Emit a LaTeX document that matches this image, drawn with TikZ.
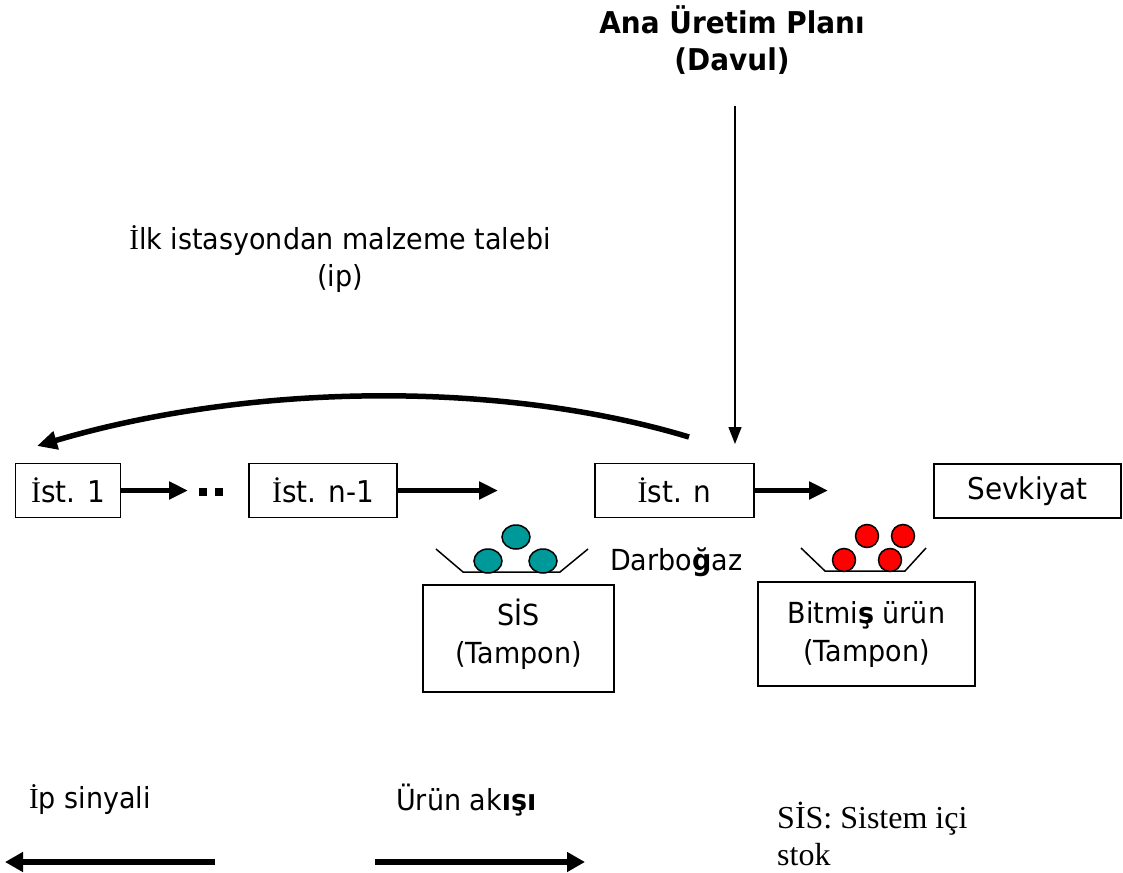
\documentclass[tikz,border=0pt]{standalone}
\usepackage{fontspec}
\setmainfont{DejaVu Sans}[FakeStretch=0.93]
\newfontfamily\serifface{Liberation Serif}
\usetikzlibrary{arrows.meta}
\definecolor{tealball}{RGB}{0,153,153}
\definecolor{redball}{RGB}{255,0,0}
% dotted capital I set in a serif face
\newcommand{\Idot}{{\serifface İ}}
\tikzset{
  lbl/.style={font=\fontsize{29}{37}\selectfont, align=center, inner sep=0pt},
  heading/.style={font=\fontsize{30}{37}\selectfont\bfseries, align=center, inner sep=0pt},
  station/.style={draw, line width=1.5pt, minimum height=54pt, inner sep=0pt,
    font=\fontsize{30}{35}\selectfont},
  bufbox/.style={draw, line width=1.5pt, inner sep=0pt},
  boxtext/.style={font=\fontsize{29}{38}\selectfont, align=center, inner sep=0pt},
  dotsq/.style={fill=black, minimum size=8pt, inner sep=0pt},
  flow/.style={line width=5.5pt, -{Triangle[length=19pt,width=17pt]}},
  ipcurve/.style={line width=5.5pt, -{Triangle[length=20pt,width=18pt]}},
  legendarrow/.style={line width=6.5pt, -{Triangle[length=18pt,width=19pt]}},
  thinarrow/.style={line width=1.3pt, -{Triangle[length=17pt,width=13pt]}},
  tray/.style={line width=1.5pt},
  ball/.style={draw=black, line width=1.5pt},
  note/.style={font=\serifface\fontsize{32}{37}\selectfont, align=left, inner sep=0pt},
}
\begin{document}
\begin{tikzpicture}[x=1pt,y=-1pt]
\useasboundingbox (0,0) rectangle (1123,872);

% master production schedule (drum)
\node[heading] (plan) at (732,40) {Ana Üretim Planı\\(Davul)};
\coordinate (drumtop) at (735,106);
\coordinate (drumtip) at (735,444);
\draw[thinarrow] (drumtop) -- (drumtip);

% material request to the first station
\node[lbl] (talep) at (340,259) {\Idot lk istasyondan malzeme talebi\\(ip)};
\coordinate (ipstart) at (689,437);
\coordinate (ipend) at (37,446);
\draw[ipcurve] (ipstart) .. controls (500,380) and (250,383) .. (ipend);

% stations
\node[station, minimum width=105pt] (s1) at (68,490.5) {\Idot st. 1};
\node[station, minimum width=148pt] (sn1) at (323,490.5) {\Idot st. n-1};
\node[station, minimum width=159pt] (sn) at (674.5,490.5) {\Idot st. n};
\node[station, minimum width=187pt] (ship) at (1027.5,491) {Sevkiyat};

\coordinate (a1) at (188,490.5);
\draw[flow] (s1.east) -- (a1);
\node[dotsq] (d1) at (203,492) {};
\node[dotsq] (d2) at (219,492) {};
\coordinate (a2) at (498,490.5);
\draw[flow] (sn1.east) -- (a2);
\coordinate (a3) at (828,490.5);
\draw[flow] (sn.east) -- (a3);

% work-in-process buffer
\draw[tray] (436,549) -- (463,572) -- (560,572) -- (588,549);
\filldraw[ball, fill=tealball] (516,537) ellipse [x radius=14pt, y radius=12pt];
\filldraw[ball, fill=tealball] (488,561) ellipse [x radius=14pt, y radius=12pt];
\filldraw[ball, fill=tealball] (543,561) ellipse [x radius=14pt, y radius=12pt];
\node[lbl, anchor=west] (darbo) at (610,562) {Darbo\textbf{ğ}az};
\node[bufbox, minimum width=191pt, minimum height=107pt,
  label={[boxtext, yshift=4pt]center:SİS\\(Tampon)}] (wip) at (518.5,638.5) {};

% finished goods buffer
\draw[tray] (801,548) -- (825,571) -- (905,571) -- (926,548);
\filldraw[ball, fill=redball] (844,560) circle [radius=11.5pt];
\filldraw[ball, fill=redball] (890,560) circle [radius=11.5pt];
\filldraw[ball, fill=redball] (867,536) circle [radius=11.5pt];
\filldraw[ball, fill=redball] (903,536) circle [radius=11.5pt];
\node[bufbox, minimum width=217pt, minimum height=104pt,
  label={[boxtext]center:Bitmi\textbf{ş} ürün\\(Tampon)}] (fg) at (866.5,634) {};

% legend
\node[lbl, anchor=west] (siglbl) at (29,800) {\Idot p sinyali};
\coordinate (sigR) at (215,862);
\coordinate (sigL) at (5,862);
\draw[legendarrow] (sigR) -- (sigL);
\node[lbl, anchor=west] (flowlbl) at (396,800) {Ürün ak\textbf{ışı}};
\coordinate (flowL) at (375,862);
\coordinate (flowR) at (585,862);
\draw[legendarrow] (flowL) -- (flowR);
\node[note, anchor=north west] (wipnote) at (777,802) {S\Idot S: Sistem içi\\stok};
\end{tikzpicture}
\end{document}
